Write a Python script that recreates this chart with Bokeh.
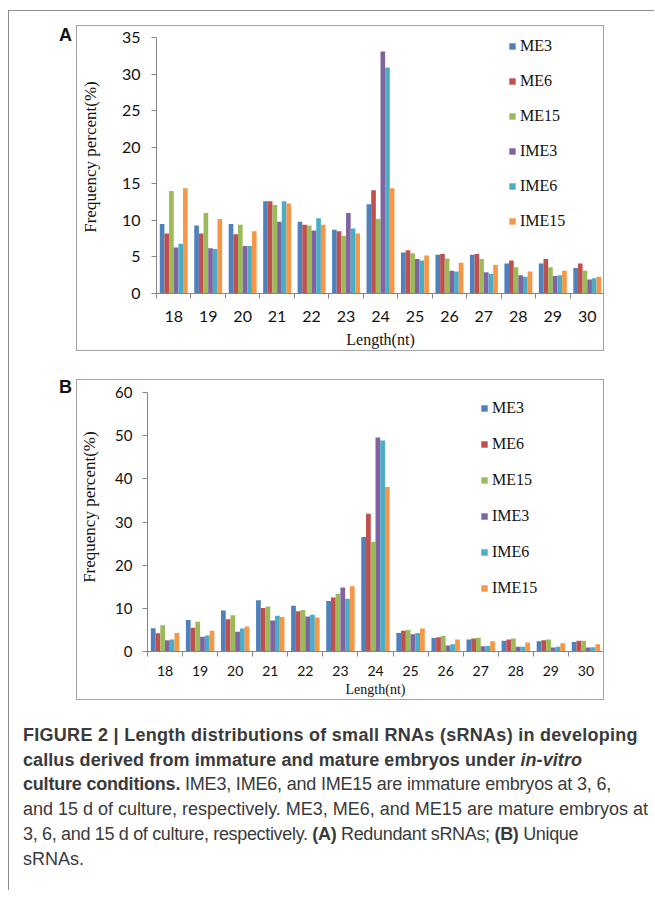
from bokeh.plotting import figure
from bokeh.models import Range1d, FixedTicker, Legend, LegendItem, ColumnDataSource, Div
from bokeh.transform import dodge
from bokeh.layouts import column, row
from bokeh.embed import file_html
from bokeh.resources import INLINE

# ---------------- data ----------------
lengths = ["18", "19", "20", "21", "22", "23", "24", "25", "26", "27", "28", "29", "30"]
series_names = ["ME3", "ME6", "ME15", "IME3", "IME6", "IME15"]
series_colors = ["#4F81BD", "#C0504D", "#9BBB59", "#8064A2", "#4BACC6", "#F79646"]

# (A) Redundant sRNAs, frequency percent
red_ME3 = [9.5, 9.3, 9.5, 12.6, 9.8, 8.7, 12.2, 5.6, 5.3, 5.3, 4.1, 4.1, 3.5]
red_ME6 = [8.2, 8.2, 8.1, 12.6, 9.4, 8.5, 14.1, 5.9, 5.4, 5.4, 4.5, 4.7, 4.1]
red_ME15 = [14.0, 11.0, 9.4, 12.1, 9.3, 7.9, 10.2, 5.5, 4.8, 4.7, 3.6, 3.6, 3.1]
red_IME3 = [6.3, 6.2, 6.5, 9.8, 8.6, 11.0, 33.1, 4.7, 3.1, 2.9, 2.5, 2.4, 1.9]
red_IME6 = [6.8, 6.1, 6.5, 12.6, 10.3, 8.9, 30.9, 4.5, 3.0, 2.7, 2.3, 2.5, 2.1]
red_IME15 = [14.4, 10.2, 8.5, 12.3, 9.4, 8.2, 14.4, 5.2, 4.2, 3.9, 3.0, 3.1, 2.3]

# (B) Unique sRNAs, frequency percent
uni_ME3 = [5.4, 7.3, 9.5, 11.9, 10.6, 11.7, 26.5, 4.3, 3.1, 2.8, 2.5, 2.4, 2.2]
uni_ME6 = [4.2, 5.5, 7.5, 10.1, 9.3, 12.5, 31.9, 4.8, 3.3, 3.0, 2.8, 2.6, 2.5]
uni_ME15 = [6.1, 6.9, 8.4, 10.4, 9.6, 13.4, 25.4, 5.0, 3.6, 3.2, 3.0, 2.8, 2.5]
uni_IME3 = [2.6, 3.4, 4.6, 7.2, 8.1, 14.8, 49.6, 4.0, 1.4, 1.2, 1.1, 0.9, 0.9]
uni_IME6 = [2.8, 3.7, 5.3, 8.3, 8.5, 12.2, 48.9, 4.3, 1.7, 1.3, 1.1, 1.1, 1.0]
uni_IME15 = [4.3, 4.8, 5.8, 8.0, 7.9, 15.1, 38.1, 5.3, 2.8, 2.4, 2.1, 1.9, 1.7]

y_ticks_A = [0, 5, 10, 15, 20, 25, 30, 35]
y_ticks_B = [0, 10, 20, 30, 40, 50, 60]
y_label = "Frequency percent(%)"
x_label = "Length(nt)"

AXIS_GRAY = "#868686"
SERIF = "Liberation Serif"
TICKFONT = "Lato"
NBSP = "\u00a0"


def make_panel(series, yticks, width, height, borders, tick_size, xtick_size, xlabel_size,
               xl_standoff, x_tick_standoff, y_tick_standoff, yl_standoff, legend_loc,
               legend_spacing, ylabel_pad):
    n = len(lengths)
    data = {"x": list(range(n))}
    for name, vals in zip(series_names, series):
        data[name] = vals
    src = ColumnDataSource(data)
    p = figure(width=width, height=height, output_backend="svg", toolbar_location=None,
               x_range=Range1d(-0.5, n - 0.5), y_range=Range1d(yticks[0], yticks[-1]),
               min_border_left=borders[0], min_border_right=borders[1],
               min_border_top=borders[2], min_border_bottom=borders[3],
               background_fill_color="white", border_fill_color="white",
               outline_line_color=None,
               styles={"border": "1px solid #a3a3a3"})
    p.xgrid.visible = False
    p.ygrid.visible = False

    bw = 0.135
    items = []
    for i, (name, col) in enumerate(zip(series_names, series_colors)):
        r = p.vbar(x=dodge("x", (i - 2.5) * bw, range=p.x_range), top=name, width=bw,
                   source=src, fill_color=col, line_color=None)
        items.append(LegendItem(label=name, renderers=[r]))

    # x axis: labels at category centers, ticks between categories
    xa = p.xaxis[0]
    xa.ticker = FixedTicker(ticks=list(range(n)), minor_ticks=[k - 0.5 for k in range(n + 1)])
    xa.major_label_overrides = {k: lengths[k] for k in range(n)}
    xa.major_tick_line_color = None
    xa.minor_tick_in = 0
    xa.minor_tick_out = 5
    xa.minor_tick_line_color = AXIS_GRAY
    xa.axis_line_color = AXIS_GRAY
    xa.major_label_text_font = TICKFONT
    xa.major_label_text_font_size = xtick_size
    xa.major_label_text_color = "#111111"
    xa.major_label_standoff = x_tick_standoff
    xa.axis_label = x_label
    xa.axis_label_text_font = SERIF
    xa.axis_label_text_font_style = "normal"
    xa.axis_label_text_font_size = xlabel_size
    xa.axis_label_text_color = "#111111"
    xa.axis_label_standoff = xl_standoff

    ya = p.yaxis[0]
    ya.ticker = FixedTicker(ticks=yticks)
    ya.minor_tick_line_color = None
    ya.major_tick_in = 0
    ya.major_tick_out = 5
    ya.major_tick_line_color = AXIS_GRAY
    ya.axis_line_color = AXIS_GRAY
    ya.major_label_text_font = TICKFONT
    ya.major_label_text_font_size = tick_size
    ya.major_label_text_color = "#111111"
    ya.major_label_standoff = y_tick_standoff
    ya.axis_label = NBSP * ylabel_pad + y_label
    ya.axis_label_text_font = SERIF
    ya.axis_label_text_font_style = "normal"
    ya.axis_label_text_font_size = "17px"
    ya.axis_label_text_color = "#111111"
    ya.axis_label_standoff = yl_standoff

    leg = Legend(items=items, location=legend_loc, orientation="vertical",
                 glyph_width=8, glyph_height=8, label_height=20, label_standoff=4,
                 spacing=legend_spacing, padding=0, margin=0,
                 border_line_color=None, background_fill_alpha=0,
                 label_text_font=SERIF, label_text_font_size="16px", label_text_color="#111111")
    p.add_layout(leg, "center")
    return p


figA = make_panel([red_ME3, red_ME6, red_ME15, red_IME3, red_IME6, red_IME15], y_ticks_A,
                  528, 326, (73, 1, 11, 59), "16px", "16px", "16px",
                  6, 11, 11, 19, (352, 62), 15, 4)
figB = make_panel([uni_ME3, uni_ME6, uni_ME15, uni_IME3, uni_IME6, uni_IME15], y_ticks_B,
                  528, 321, (67, 2, 12, 50), "15px", "14px", "14px",
                  3, 8, 10, 13, (333, 53), 16, 7)

label_style = {"font-family": "Liberation Sans", "font-weight": "bold", "font-size": "18px",
               "line-height": "18px", "color": "#111111"}
labA = Div(text="A", width=17, height=20, margin=(1, 0, 0, 50), styles=label_style)
labB = Div(text="B", width=17, height=20, margin=(-1, 0, 0, 50), styles=label_style)

rowA = row(labA, figA, margin=(14, 0, 0, 0))
rowB = row(labB, figB, margin=(28, 0, 0, 0))

caption_html = (
    "<span style='letter-spacing:0.28px'><b>FIGURE 2 | Length distributions of small RNAs (sRNAs) in developing</b></span><br>"
    "<span style='letter-spacing:0.08px'><b>callus derived from immature and mature embryos under <i>in-vitro</i></b></span><br>"
    "<span style='letter-spacing:-0.2px'><b>culture conditions.</b> IME3, IME6, and IME15 are immature embryos at 3, 6,</span><br>"
    "<span>and 15 d of culture, respectively. ME3, ME6, and ME15 are mature embryos at</span><br>"
    "<span style='letter-spacing:-0.33px'>3, 6, and 15 d of culture, respectively. <b>(A)</b> Redundant sRNAs; <b>(B)</b> Unique</span><br>"
    "<span>sRNAs.</span>"
)
caption = Div(text=caption_html, width=632, height=150, margin=(23, 0, 0, 14),
              styles={"font-family": "Liberation Sans", "font-size": "18px",
                      "line-height": "24.7px", "color": "#3a3a3a", "white-space": "nowrap"})

page = column(rowA, rowB, caption, width=646, height=880, margin=(10, 0, 0, 8),
              styles={"border-left": "1px solid #8c8c8c", "border-top": "1px solid #8c8c8c"})

open("out.html", "w").write(file_html(page, INLINE))
